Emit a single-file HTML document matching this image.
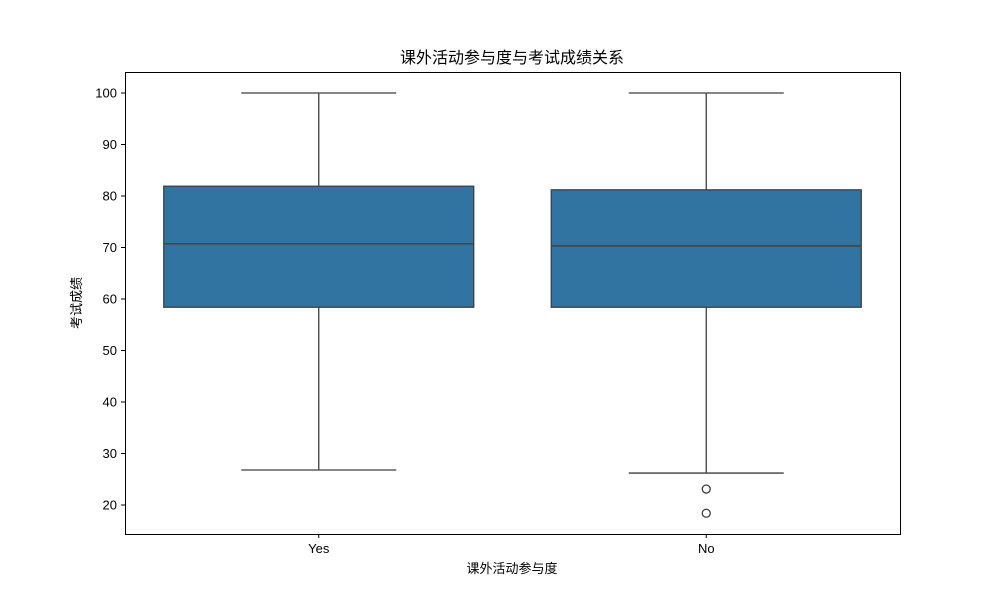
<!DOCTYPE html>
<html><head><meta charset="utf-8"><style>
body{margin:0;background:#fff;}
text{font-family:"Liberation Sans","Noto Sans CJK SC",sans-serif;fill:#000;}
</style></head><body>
<svg id="chart" width="1000" height="600">
<rect width="1000" height="600" fill="#fff"/>
<text x="512" y="63" font-size="16" text-anchor="middle">课外活动参与度与考试成绩关系</text>
<text x="512" y="573" font-size="13" text-anchor="middle">课外活动参与度</text>
<text transform="translate(81,303) rotate(-90)" font-size="13" text-anchor="middle">考试成绩</text>
<g id="yt"></g><g id="boxes"></g><g id="xt"></g>
<rect x="125.5" y="72.5" width="775" height="462" fill="none" stroke="#000" stroke-width="1"/>
</svg>
<script>
const categories=["Yes","No"];
const q1=[58.4,58.4];
const medians=[70.7,70.3];
const q3=[81.9,81.2];
const whiskLow=[26.8,26.2];
const whiskHigh=[100,100];
const outliers=[[],[23.1,18.4]];
const yTicks=[20,30,40,50,60,70,80,90,100];
const NS="http://www.w3.org/2000/svg";
const L=125,R=900;
function y(v){return 505-(v-20)*5.15;}
function x(i){return L+(R-L)/categories.length*(i+0.5);}
function mk(tag,attrs,parent){const e=document.createElementNS(NS,tag);for(const k in attrs)e.setAttribute(k,attrs[k]);parent.appendChild(e);return e;}
const yt=document.getElementById('yt'),bx=document.getElementById('boxes'),xt=document.getElementById('xt');
yTicks.forEach(t=>{
 const l=mk('line',{x1:121,x2:125,y1:y(t),y2:y(t),stroke:'#000'},yt);
 
 
 const tx=mk('text',{x:117,y:y(t)+4.5,'font-size':13,'text-anchor':'end'},yt);
 tx.textContent=t;
 
 
});
const bw=310;
categories.forEach((c,i)=>{
 const cx=x(i);
 const g=mk('g',{},bx);
 
 
 const s={stroke:'#3f3f3f','stroke-width':1.3};
 mk('line',Object.assign({x1:cx,x2:cx,y1:y(q1[i]),y2:y(whiskLow[i])},s),g);
 mk('line',Object.assign({x1:cx,x2:cx,y1:y(q3[i]),y2:y(whiskHigh[i])},s),g);
 mk('line',Object.assign({x1:cx-bw/4,x2:cx+bw/4,y1:y(whiskLow[i]),y2:y(whiskLow[i])},s),g);
 mk('line',Object.assign({x1:cx-bw/4,x2:cx+bw/4,y1:y(whiskHigh[i]),y2:y(whiskHigh[i])},s),g);
 mk('rect',Object.assign({x:cx-bw/2,y:y(q3[i]),width:bw,height:y(q1[i])-y(q3[i]),fill:'#3274a1'},s),g);
 mk('line',Object.assign({x1:cx-bw/2,x2:cx+bw/2,y1:y(medians[i]),y2:y(medians[i])},s),g);
 outliers[i].forEach(o=>{
  const p=mk('circle',{cx:cx,cy:y(o),r:4,fill:'none',stroke:'#3f3f3f','stroke-width':1.3},g);
  
  
 });
 mk('line',{x1:cx,x2:cx,y1:534,y2:538,stroke:'#000'},xt);
 const tx=mk('text',{x:cx,y:553,'font-size':13,'text-anchor':'middle'},xt);
 tx.textContent=c;
 
 
});
</script>
</body></html>
